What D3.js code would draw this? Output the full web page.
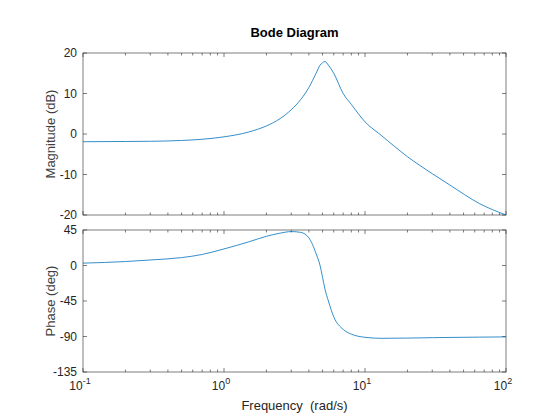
<!DOCTYPE html>
<html><head><meta charset="utf-8">
<script src="https://cdn.jsdelivr.net/npm/d3@7"></script>
<style>body{margin:0;background:#fff}text{font-family:Helvetica,"Liberation Sans",Arial,sans-serif}</style>
</head><body>
<script>
// data
var freq = [0.1,0.2,0.3,0.5,0.7,1,1.5,2,2.5,3,3.5,4,4.5,4.8,5,5.2,5.5,6,7,8,10,13,20,30,40,65,100];
var magDb = [-1.9,-1.85,-1.8,-1.6,-1.3,-0.7,0.5,2,3.8,6,8.5,11.5,15,17,17.6,17.9,17,15,10,7.3,3,-0.3,-5.6,-9.8,-12.6,-17.2,-20];
var phaseDeg = [3,5,7,10,14,21,30,37,41,43,42,35,15,0,-15,-30,-45,-65,-81,-87,-91,-92.3,-92,-91.5,-91.2,-90.8,-90.5];
var magTicks = [-20,-10,0,10,20];
var phaseTicks = [-135,-90,-45,0,45];
var freqTicks = [0.1,1,10,100];
var freqLabels = ["-1","0","1","2"];

var W=560,H=420, L=83, R=506;
var svg = d3.select("body").append("svg").attr("width",W).attr("height",H);
var x = d3.scaleLog().domain([0.1,100]).range([L,R]);
var minor = [];
[0.1,1,10].forEach(function(d){ for(var k=2;k<10;k++) minor.push(d*k) });

function panel(top,bottom,dom,ticks,vals,ylab,showX){
  var y = d3.scaleLinear().domain(dom).range([bottom,top]);
  var g = svg.append("g");
  g.append("rect").attr("x",L).attr("y",top).attr("width",R-L).attr("height",bottom-top)
    .attr("fill","#fff").attr("stroke","#262626").attr("stroke-width",0.6);
  ticks.forEach(function(t){
    g.append("line").attr("x1",L).attr("x2",L+4).attr("y1",y(t)).attr("y2",y(t)).attr("stroke","#262626").attr("stroke-width",0.6);
    g.append("line").attr("x1",R).attr("x2",R-4).attr("y1",y(t)).attr("y2",y(t)).attr("stroke","#262626").attr("stroke-width",0.6);
    g.append("text").attr("x",L-6).attr("y",y(t)+4).attr("text-anchor","end").attr("font-size",12).attr("fill","#262626").text(t);
  });
  freqTicks.forEach(function(f){
    [[bottom,bottom-4],[top,top+4]].forEach(function(p){
      g.append("line").attr("x1",x(f)).attr("x2",x(f)).attr("y1",p[0]).attr("y2",p[1]).attr("stroke","#262626").attr("stroke-width",0.6);
    });
  });
  minor.forEach(function(f){
    [[bottom,bottom-2.5],[top,top+2.5]].forEach(function(p){
      g.append("line").attr("x1",x(f)).attr("x2",x(f)).attr("y1",p[0]).attr("y2",p[1]).attr("stroke","#262626").attr("stroke-width",0.6);
    });
  });
  var line = d3.line().x(function(d,i){return x(freq[i])}).y(function(d){return y(d)}).curve(d3.curveMonotoneX);
  g.append("path").datum(vals).attr("d",line).attr("fill","none").attr("stroke","#0072BD").attr("stroke-width",0.8);
  g.append("text").attr("transform","translate(55,"+((top+bottom)/2)+") rotate(-90)")
    .attr("text-anchor","middle").attr("font-size",13).attr("fill","#404040").text(ylab);
  if(showX){
    freqTicks.forEach(function(f,i){
      var t = g.append("text").attr("x",x(f)-3).attr("y",bottom+18).attr("text-anchor","middle").attr("font-size",12).attr("fill","#262626");
      t.append("tspan").text("10");
      t.append("tspan").attr("dy",-6).attr("font-size",9).text(freqLabels[i]);
    });
  }
}
panel(53,215,[-20,20],magTicks,magDb,"Magnitude (dB)",false);
panel(230,372,[-135,45],phaseTicks,phaseDeg,"Phase (deg)",true);
svg.append("text").attr("x",(L+R)/2).attr("y",37).attr("text-anchor","middle").attr("font-size",13).attr("font-weight","bold").text("Bode Diagram");
svg.append("text").attr("x",(L+R)/2).attr("y",410).attr("text-anchor","middle").attr("font-size",13).attr("fill","#262626").attr("xml:space","preserve").text("Frequency  (rad/s)");
</script>
</body></html>
